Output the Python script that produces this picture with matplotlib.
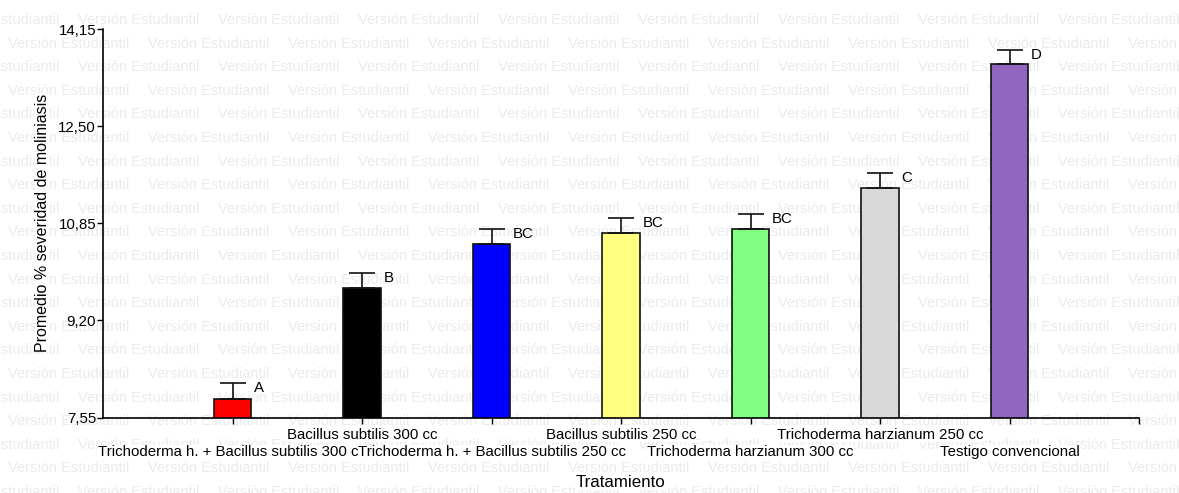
import numpy as np
import matplotlib
matplotlib.use("Agg")
import matplotlib.pyplot as plt

plt.rcParams['font.family'] = ['Liberation Sans', 'DejaVu Sans']

# datos
tratamientos = ["Trichoderma h. + Bacillus subtilis 300 cc",
                "Bacillus subtilis 300 cc",
                "Trichoderma h. + Bacillus subtilis 250 cc",
                "Bacillus subtilis 250 cc",
                "Trichoderma harzianum 300 cc",
                "Trichoderma harzianum 250 cc",
                "Testigo convencional"]
medias = [7.87, 9.75, 10.49, 10.69, 10.76, 11.45, 13.56]
errores = [0.26, 0.25, 0.26, 0.25, 0.25, 0.25, 0.24]
letras = ["A", "B", "BC", "BC", "BC", "C", "D"]
colores = ["#ff0000", "#000000", "#0000ff", "#ffff80", "#80ff80", "#d9d9d9", "#9066c0"]
yticks = [7.55, 9.20, 10.85, 12.50, 14.15]

fig = plt.figure(figsize=(11.79, 4.93), dpi=100)

# marca de agua "Versión Estudiantil"
W, H = 1179, 493
fila = 0
yy = 20
while yy < H + 12:
    x0 = -62 if fila % 2 == 0 else 8
    xx = x0
    while xx < W:
        fig.text(xx / W, 1 - yy / H, "Versión Estudiantil", fontsize=10.5,
                 color="#ebebeb", ha="left", va="center", zorder=-5)
        xx += 140
    fila += 1
    yy += 23.6

ax = fig.add_axes([103 / W, 1 - 417.5 / H, (1139 - 103) / W, (417.5 - 29) / H])
ax.patch.set_visible(False)

x = np.arange(1, len(medias) + 1)
ancho = 0.29
ax.bar(x, medias, width=ancho, color=colores, edgecolor="#111111", linewidth=1.2, zorder=2)
ax.errorbar(x, medias, yerr=[np.zeros(len(errores)), errores], fmt="none",
            ecolor="#111111", elinewidth=1.2, capsize=9.5, capthick=1.2, zorder=3)

for xi, m, e, l in zip(x, medias, errores, letras):
    ax.annotate(l, xy=(xi + ancho / 2, m + e), xytext=(2, 1.5), textcoords="offset points",
                ha="left", va="top", fontsize=10.8, zorder=4)

ax.set_xlim(0, 8)
ax.set_ylim(7.55, 14.15)
ax.set_yticks(yticks)
ax.set_yticklabels([f"{v:.2f}".replace(".", ",") for v in yticks], fontsize=10.8)
ax.set_xticks(list(x) + [8])
ax.set_xticklabels([])
ax.tick_params(axis="both", length=4, width=1, color="black", pad=1)
ax.spines["top"].set_visible(False)
ax.spines["right"].set_visible(False)
ax.spines["left"].set_linewidth(1.2)
ax.spines["bottom"].set_linewidth(1.2)

# etiquetas alternadas en dos filas, con fondo blanco
for i, (xi, t) in enumerate(zip(x, tratamientos)):
    yl = -0.045 if i % 2 == 1 else -0.0888
    ax.text(xi, yl, t, transform=ax.get_xaxis_transform(), ha="center", va="center",
            fontsize=10.8, clip_on=False, zorder=5 + i,
            bbox=dict(facecolor="white", edgecolor="none", pad=0))

ax.text(0.5, -0.167, "Tratamiento", transform=ax.transAxes, ha="center", va="center",
        fontsize=12.2, bbox=dict(facecolor="white", edgecolor="none", pad=0))
ax.set_ylabel("Promedio % severidad de moliniasis", fontsize=11.5, labelpad=6,
              bbox=dict(facecolor="white", edgecolor="none", pad=0))

fig.savefig("out.png", dpi=100)
